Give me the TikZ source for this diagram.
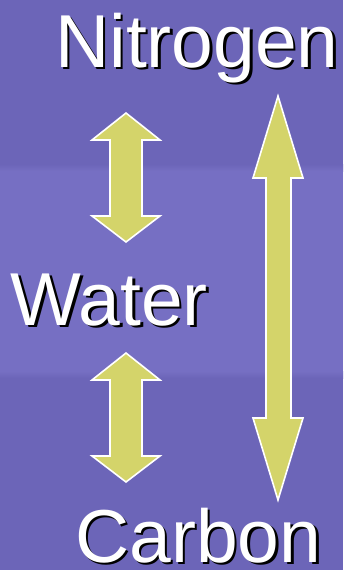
\documentclass[tikz,border=0pt]{standalone}
\usepackage{fontspec}
\setmainfont{Liberation Sans}
\definecolor{bgtop}{HTML}{6C65B8}
\definecolor{bgmid}{HTML}{766FC3}
\definecolor{arrowfill}{HTML}{D4D46A}
\tikzset{
  x=1pt,y=-1pt,
  arrowshape/.style={fill=arrowfill,draw=white,line width=1.6pt,line join=miter},
  lbl/.style={inner sep=0pt,anchor=base west,font=\fontsize{75}{80}\selectfont,text=white},
  shadow/.style={lbl,text=black}
}
\newcommand{\shadowtext}[3]{%
  \node[shadow] at ($(#1)+(2.6,2.6)$) {#3};
  \node[lbl] (#2) at (#1) {#3};}
\usetikzlibrary{calc}
\begin{document}
\begin{tikzpicture}
\useasboundingbox (0,0) rectangle (343,570);
% background
\fill[bgtop] (0,0) rectangle (343,570);
\fill[bgmid] (0,170) rectangle (343,372);
\shade[top color=bgtop,bottom color=bgmid] (0,164) rectangle (343,171);
\shade[top color=bgmid,bottom color=bgtop] (0,371) rectangle (343,378);
% upper small double arrow
\draw[arrowshape] (126,113) -- (160,140) -- (142,140) -- (142,216) -- (160,216)
  -- (126,242) -- (92,216) -- (110,216) -- (110,140) -- (92,140) -- cycle;
% lower small double arrow
\draw[arrowshape] (126,353) -- (160,380) -- (142,380) -- (142,456) -- (160,456)
  -- (126,482) -- (92,456) -- (110,456) -- (110,380) -- (92,380) -- cycle;
% long double arrow
\draw[arrowshape] (278,96) -- (303,178) -- (291,178) -- (291,418) -- (303,418)
  -- (278,500) -- (253,418) -- (266,418) -- (266,178) -- (253,178) -- cycle;
% labels
\coordinate (pN) at (55,67);
\coordinate (pW) at (10.5,325);
\coordinate (pC) at (75,562);
\shadowtext{pN}{nitrogen}{Nitrogen}
\shadowtext{pW}{water}{Water}
\shadowtext{pC}{carbon}{Carbon}
\end{tikzpicture}
\end{document}
